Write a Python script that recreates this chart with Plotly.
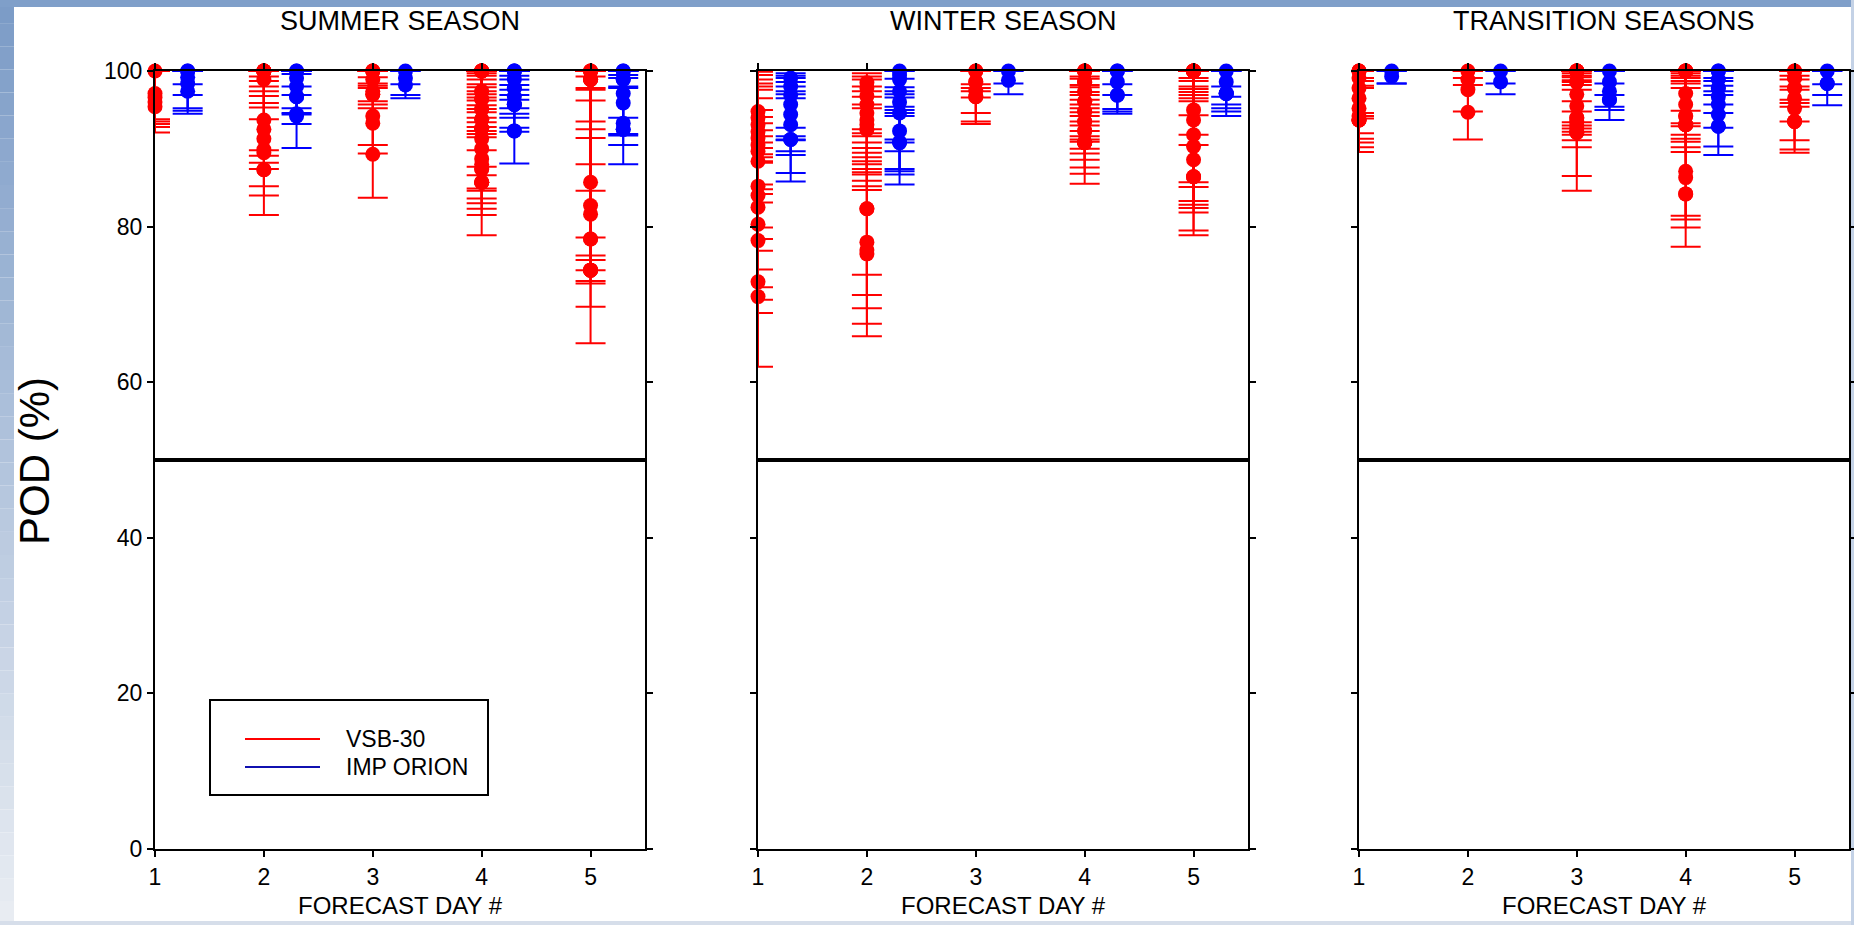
import plotly.graph_objects as go

# ---------------- data ----------------
DAYS = [1, 2, 3, 4, 5]
SEASONS = ["SUMMER SEASON", "WINTER SEASON", "TRANSITION SEASONS"]
MODELS = ["VSB-30", "IMP ORION"]
Y_TICKS = [0, 20, 40, 60, 80, 100]
POD_MAX = 100  # upper limit of POD (%)

# POD values (markers), lower and upper error-bar ends; one inner list per forecast day
SUMMER_VSB_POD = [
    [100, 97.1, 96.6, 96.0, 95.4],
    [100, 100, 100, 100, 100, 100, 100, 98.9, 93.7, 92.5, 91.3, 89.9, 89.5, 87.3, 87.3],
    [100, 100, 100, 98.9, 97.4, 97.0, 97.0, 94.2, 93.3, 89.3],
    [100, 100, 100, 100, 100, 100, 100, 97.4, 97.4, 96.4, 96.4, 95.1, 95.1, 93.8, 93.8,
     92.6, 92.6, 92.6, 91.3, 90.0, 88.7, 87.4, 87.4, 85.7, 85.7, 85.7, 88.0, 85.7],
    [100, 100, 100, 98.9, 98.9, 98.9, 98.9, 98.9, 85.7, 82.7, 81.6, 78.4, 78.4, 74.4, 74.4, 74.4, 74.4],
]
SUMMER_VSB_LOW = [
    [93.8, 93.5, 93.2, 92.8, 92.1],
    [99.3, 98.7, 98.0, 97.4, 96.8, 95.9, 95.3, 93.8, 89.8, 89.1, 88.2, 87.4, 85.2, 84.0, 81.5],
    [99.2, 98.4, 98.1, 97.8, 96.1, 95.7, 95.2, 90.5, 89.4, 83.7],
    [99.7, 99.4, 98.9, 98.3, 97.9, 97.4, 97.0, 96.6, 96.2, 95.6, 95.1, 94.7, 94.0, 93.4, 92.8,
     92.3, 91.9, 91.5, 89.8, 87.7, 86.6, 84.9, 84.6, 83.6, 83.0, 82.3, 81.5, 78.9],
    [99.3, 97.8, 97.6, 96.2, 93.5, 92.5, 91.4, 88.0, 84.6, 78.6, 76.3, 75.7, 74.4, 73.0, 72.7, 69.7, 65.0],
]
SUMMER_VSB_HIGH = [None, None, None, None, None]

SUMMER_ORION_POD = [
    [100, 100, 99.2, 98.4, 97.4],
    [100, 100, 99.1, 98.0, 96.7, 96.7, 94.5, 94.2],
    [100, 99.1, 98.2],
    [100, 100, 100, 98.9, 97.8, 97.8, 96.7, 95.7, 95.7, 95.7, 92.3, 92.3],
    [100, 100, 98.9, 98.9, 97.1, 95.9, 93.3, 92.5, 92.5],
]
SUMMER_ORION_LOW = [
    [98.3, 94.9, 96.9, 95.2, 94.5],
    [99.6, 98.0, 96.9, 95.2, 94.6, 94.4, 93.2, 90.1],
    [98.3, 96.9, 96.5],
    [99.4, 98.9, 98.2, 97.6, 96.9, 96.3, 95.2, 94.5, 94.0, 92.7, 92.2, 88.1],
    [99.5, 99.1, 98.0, 97.8, 94.0, 91.9, 91.7, 90.5, 88.0],
]
SUMMER_ORION_HIGH = [None, None, None, None, None]

WINTER_VSB_POD = [
    [94.8, 94.0, 93.1, 92.2, 91.4, 90.5, 89.7, 88.4, 85.2, 84.0, 82.5, 80.3, 78.2, 72.9, 71.0],
    [98.5, 97.8, 96.8, 95.7, 94.6, 93.7, 93.1, 92.5, 92.5, 82.3, 82.3, 78.0, 77.0, 76.5],
    [100, 100, 98.6, 98.6, 97.5, 96.7, 96.7],
    [100, 100, 100, 100, 98.6, 98.6, 98.6, 97.4, 97.4, 96.1, 96.1, 94.8, 94.8, 93.5, 93.5,
     92.3, 92.3, 90.8, 90.8, 90.8, 90.8, 90.8, 90.8],
    [100, 100, 100, 100, 100, 100, 100, 100, 95.0, 93.7, 91.8, 90.3, 88.6, 86.4, 86.4, 86.4],
]
WINTER_VSB_LOW = [
    [90.1, 89.3, 88.9, 88.4, 88.2, 84.2, 83.1, 79.9, 78.4, 76.9, 74.5, 72.2, 70.6, 68.9, 62.0],
    [88.9, 88.4, 88.0, 87.4, 87.0, 86.7, 85.9, 85.2, 84.7, 73.8, 71.2, 69.5, 67.5, 65.9],
    [98.3, 97.8, 97.4, 96.6, 94.6, 93.5, 93.2],
    [99.3, 99.0, 98.2, 97.9, 97.3, 96.9, 96.3, 95.7, 95.2, 94.7, 94.2, 93.5, 93.0, 92.3, 91.6,
     91.2, 90.9, 90.0, 89.4, 88.6, 87.6, 86.8, 85.5],
    [99.1, 98.7, 98.0, 97.7, 97.3, 96.9, 96.5, 96.1, 85.7, 85.1, 83.3, 82.8, 82.4, 81.8, 79.5, 78.9],
]
WINTER_VSB_HIGH = [
    [99.9, 99.5, 98.9, 98.4, 98.0, 97.6, 96.5, 95.0, 94.1, 93.3, 92.4, 91.6, 90.8, 85.4, 84.8],
    [99.7, 99.3, 98.9, 98.0, 97.4, 96.7, 95.7, 95.2, 92.5, 92.0, 91.6, 90.8, 90.1, 89.5],
    None,
    None,
    [100, 100, 100, 100, 100, 100, 100, 100, 100, 94.3, 100, 91.8, 90.5, 100, 100, 100],
]

WINTER_ORION_POD = [
    [99.1, 98.0, 96.9, 95.7, 94.4, 93.1, 91.2, 91.2],
    [100, 99.5, 98.9, 97.4, 96.0, 94.6, 92.3, 90.8, 90.8],
    [100, 98.8],
    [100, 100, 98.6, 96.9, 96.9],
    [100, 98.6, 97.1, 97.1, 97.1, 97.1],
]
WINTER_ORION_LOW = [
    [92.7, 91.6, 91.1, 89.7, 89.2, 86.9, 85.8, 91.2],
    [95.0, 94.6, 94.2, 91.2, 89.7, 87.4, 87.1, 86.7, 85.4],
    [98.4, 97.0],
    [98.3, 96.9, 95.1, 94.8, 94.5],
    [98.0, 96.7, 95.7, 95.2, 94.8, 94.2],
]
WINTER_ORION_HIGH = [
    [99.7, 99.4, 99.1, 98.6, 98.0, 97.4, 97.0, 96.5],
    [100, 100, 99.0, 97.9, 97.4, 97.0, 96.6, 95.4, 90.8],
    None,
    None,
    None,
]

TRANS_VSB_POD = [
    [100, 100, 100, 99.1, 97.8, 96.5, 95.2, 94.2, 93.7, 93.7, 93.7, 93.7],
    [100, 98.9, 97.6, 94.7],
    [100, 100, 100, 100, 100, 100, 98.6, 98.6, 97.0, 95.5, 94.0, 94.0, 93.5, 93.0, 92.6, 92.1, 92.1, 92.1],
    [100, 100, 100, 100, 100, 100, 97.1, 95.7, 94.2, 94.2, 93.1, 93.1, 93.1, 93.1, 87.1, 86.3, 84.2, 84.2],
    [100, 100, 99.1, 99.1, 97.8, 97.8, 96.5, 95.2, 93.5, 93.5, 93.5],
]
TRANS_VSB_LOW = [
    [99.1, 98.7, 98.1, 97.8, 94.6, 94.2, 93.9, 92.0, 91.3, 90.8, 90.2, 89.6],
    [99.1, 98.2, 94.8, 91.2],
    [99.7, 99.4, 99.2, 98.8, 98.6, 98.2, 97.6, 96.1, 94.8, 93.4, 93.0, 92.6, 92.2, 91.8, 91.1, 90.2, 86.5, 84.6],
    [99.7, 99.4, 99.1, 98.7, 98.4, 97.8, 94.9, 93.3, 92.9, 91.8, 91.3, 90.9, 90.2, 89.6, 81.4, 80.9, 79.9, 77.4],
    [99.4, 98.9, 98.0, 97.6, 96.3, 95.9, 95.4, 93.5, 91.1, 89.9, 89.5],
]
TRANS_VSB_HIGH = [None, None, None, None, None]

TRANS_ORION_POD = [
    [100, 99.3],
    [100, 98.6],
    [100, 98.6, 97.4, 96.3, 96.3],
    [100, 100, 98.9, 97.8, 97.8, 96.7, 95.7, 94.4, 92.9, 92.9],
    [100, 98.4, 98.4],
]
TRANS_ORION_LOW = [
    [98.4, 98.4],
    [98.4, 97.0],
    [98.4, 96.9, 95.4, 95.0, 93.7],
    [99.1, 98.7, 98.1, 97.4, 96.9, 95.7, 94.6, 92.7, 90.3, 89.2],
    [98.3, 96.9, 95.6],
]
TRANS_ORION_HIGH = [None, None, None, None, None]

# ---------------- styling / layout ----------------
W, H = 1854, 925
FONT = "Liberation Sans, Arial, Helvetica, sans-serif"
COLORS = ["#ff0000", "#0000ff"]
OFFSETS = [0.0, 0.3]
PANEL_PX = [(155, 645), (758, 1248), (1359, 1849)]
PLOT_TOP_PX, PLOT_BOTTOM_PX = 71, 849


def fx(px):
    return px / W


def fy(py):
    return 1 - py / H


PANEL_DATA = [
    [(SUMMER_VSB_POD, SUMMER_VSB_LOW, SUMMER_VSB_HIGH), (SUMMER_ORION_POD, SUMMER_ORION_LOW, SUMMER_ORION_HIGH)],
    [(WINTER_VSB_POD, WINTER_VSB_LOW, WINTER_VSB_HIGH), (WINTER_ORION_POD, WINTER_ORION_LOW, WINTER_ORION_HIGH)],
    [(TRANS_VSB_POD, TRANS_VSB_LOW, TRANS_VSB_HIGH), (TRANS_ORION_POD, TRANS_ORION_LOW, TRANS_ORION_HIGH)],
]

fig = go.Figure()

for p, panel in enumerate(PANEL_DATA):
    xref = "x" if p == 0 else f"x{p + 1}"
    yref = "y" if p == 0 else f"y{p + 1}"
    for m, (pod_all, low_all, high_all) in enumerate(panel):
        for d, day in enumerate(DAYS):
            pods = pod_all[d]
            lows = low_all[d]
            highs = high_all[d] if high_all[d] is not None else [POD_MAX] * len(pods)
            fig.add_trace(go.Scatter(
                x=[day + OFFSETS[m]] * len(pods),
                y=pods,
                mode="markers",
                name=MODELS[m],
                marker=dict(color=COLORS[m], size=15, line=dict(width=0)),
                error_y=dict(type="data", symmetric=False,
                             array=[round(h - v, 3) for h, v in zip(highs, pods)],
                             arrayminus=[round(v - lo, 3) for v, lo in zip(pods, lows)],
                             color=COLORS[m], thickness=2, width=15),
                cliponaxis=False,
                showlegend=False,
                hoverinfo="skip",
                xaxis=xref, yaxis=yref,
            ))

layout = dict(
    width=W, height=H, autosize=False,
    margin=dict(l=0, r=0, t=0, b=0, pad=0, autoexpand=False),
    paper_bgcolor="white", plot_bgcolor="white",
    font=dict(family=FONT, color="black"),
    showlegend=False,
)

axis_common = dict(
    showline=True, linecolor="black", linewidth=2, mirror="ticks",
    ticks="outside", ticklen=6, tickwidth=2, tickcolor="black",
    showgrid=False, zeroline=False, fixedrange=True, automargin=False,
    tickfont=dict(family=FONT, size=23, color="black"),
)

shapes = []
annotations = []
y_domain = [fy(PLOT_BOTTOM_PX), fy(PLOT_TOP_PX)]
for p, (x0, x1) in enumerate(PANEL_PX):
    suffix = "" if p == 0 else str(p + 1)
    layout["xaxis" + suffix] = dict(axis_common, domain=[fx(x0), fx(x1)], range=[1, 5.5],
                                   tickvals=DAYS, ticktext=[str(d) for d in DAYS],
                                   anchor="y" + suffix)
    layout["yaxis" + suffix] = dict(axis_common, domain=y_domain, range=[0, 100],
                                   tickvals=Y_TICKS, ticktext=[str(t) for t in Y_TICKS],
                                   showticklabels=(p == 0), anchor="x" + suffix)
    # thick reference line at 50 %
    shapes.append(dict(type="line", xref=f"x{suffix} domain", yref="y" + suffix,
                       x0=0, x1=1, y0=50, y1=50, line=dict(color="black", width=4),
                       layer="above"))
    # panel title and x-axis title
    cx = fx((x0 + x1) / 2)
    annotations.append(dict(text=SEASONS[p], x=cx, y=fy(21), xref="paper", yref="paper",
                            xanchor="center", yanchor="middle", showarrow=False,
                            font=dict(family=FONT, size=27, color="black")))
    annotations.append(dict(text="FORECAST DAY #", x=cx, y=fy(905), xref="paper", yref="paper",
                            xanchor="center", yanchor="middle", showarrow=False,
                            font=dict(family=FONT, size=24, color="black")))

annotations.append(dict(text="POD (%)", x=fx(34), y=fy(461), xref="paper", yref="paper",
                        xanchor="center", yanchor="middle", textangle=-90, showarrow=False,
                        font=dict(family=FONT, size=42, color="black")))

# legend box (drawn in panel 1)
shapes.append(dict(type="rect", xref="paper", yref="paper",
                   x0=fx(210), x1=fx(488), y0=fy(795), y1=fy(700),
                   line=dict(color="black", width=2), fillcolor="white", layer="above"))
for m, ypx in enumerate([739, 767]):
    shapes.append(dict(type="line", xref="paper", yref="paper",
                       x0=fx(245), x1=fx(320), y0=fy(ypx), y1=fy(ypx),
                       line=dict(color=COLORS[m] if m == 0 else "#1010b0", width=2), layer="above"))
    annotations.append(dict(text=MODELS[m], x=fx(344), y=fy(ypx), xref="paper", yref="paper",
                            xanchor="left", yanchor="middle", showarrow=False,
                            font=dict(family=FONT, size=23, color="black")))

# slide-like decorative border bands
N = 40
top_rgb = (124, 156, 199)
bot_rgb = (232, 236, 242)
for i in range(N):
    t = i / (N - 1)
    c = tuple(int(round(a + (b - a) * t)) for a, b in zip(top_rgb, bot_rgb))
    shapes.append(dict(type="rect", xref="paper", yref="paper",
                       x0=0, x1=fx(14), y0=fy(H * (i + 1) / N), y1=fy(H * i / N),
                       line=dict(width=0), fillcolor=f"rgb{c}", layer="below"))
shapes.append(dict(type="rect", xref="paper", yref="paper", x0=0, x1=1, y0=fy(7), y1=1,
                   line=dict(width=0), fillcolor="rgb(127,159,201)", layer="below"))
shapes.append(dict(type="rect", xref="paper", yref="paper", x0=0, x1=1, y0=0, y1=fy(921),
                   line=dict(width=0), fillcolor="rgb(214,222,234)", layer="below"))
shapes.append(dict(type="rect", xref="paper", yref="paper", x0=fx(1851), x1=1, y0=0, y1=1,
                   line=dict(width=0), fillcolor="rgb(196,210,230)", layer="below"))

layout["shapes"] = shapes
layout["annotations"] = annotations
fig.update_layout(**layout)

fig.write_html("out.html", include_plotlyjs=True, config={"displayModeBar": False},
               post_script="document.body.style.margin='0';document.body.style.overflow='hidden';")
